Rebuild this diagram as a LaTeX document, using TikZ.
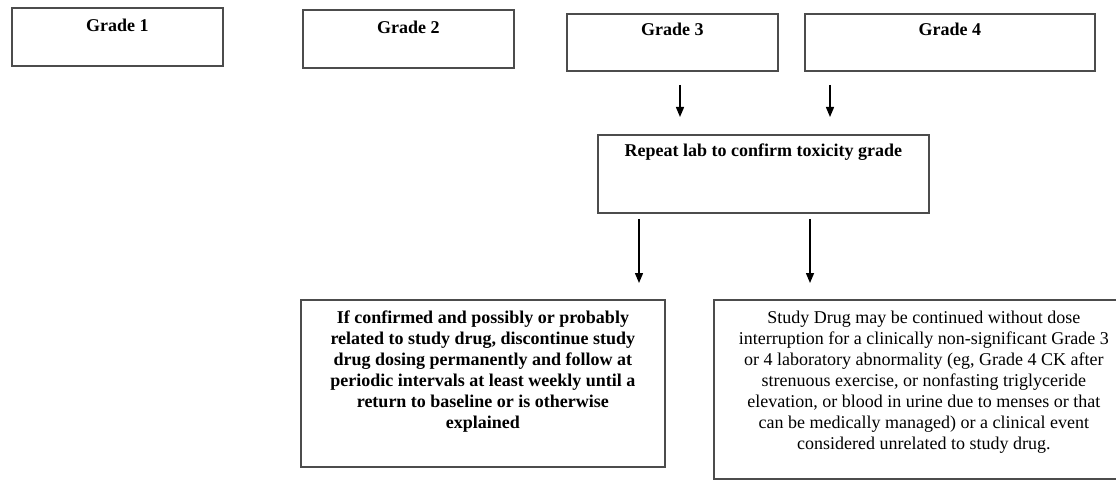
\documentclass[tikz,border=0pt]{standalone}
\usepackage{fontspec}
\setmainfont{Liberation Serif}
\usetikzlibrary{arrows.meta}
\begin{document}
\begin{tikzpicture}[x=1pt, y=-1pt,
	box/.style = {draw=black!70, line width=1.8pt, anchor=north west, inner sep=0pt},
	boxtext/.style = {anchor=north, yshift=-10pt, inner sep=2pt, align=center, font=\fontsize{18}{21}\selectfont},
	boldtext/.style = {boxtext, font=\fontsize{18}{21}\selectfont\bfseries},
	arr/.style = {-{Triangle[length=10pt, width=8pt]}, line width=1.4pt}]
	\useasboundingbox (0,0) rectangle (1116,481);
	\node[box, minimum width=211pt, minimum height=58pt, label={[boldtext]north:Grade 1}] (g1) at (11,7) {};
	\node[box, minimum width=211pt, minimum height=58pt, label={[boldtext]north:Grade 2}] (g2) at (302,9) {};
	\node[box, minimum width=211pt, minimum height=57pt, label={[boldtext, yshift=2pt]north:Grade 3}] (g3) at (566,13) {};
	\node[box, minimum width=290pt, minimum height=57pt, label={[boldtext, yshift=2pt]north:Grade 4}] (g4) at (804,13) {};
	\node[box, minimum width=331pt, minimum height=78pt, label={[boldtext, yshift=2pt]north:Repeat lab to confirm toxicity grade}] (rep) at (597,134) {};
	\node[box, minimum width=364pt, minimum height=167pt, label={[boldtext]north:If confirmed and possibly or probably\\related to study drug, discontinue study\\drug dosing permanently and follow at\\periodic intervals at least weekly until a\\return to baseline or is otherwise\\explained}] (stop) at (300,299) {};
	\node[box, minimum width=420pt, minimum height=179pt, label={[boxtext]north:Study Drug may be continued without dose\\interruption for a clinically non-significant Grade 3\\or 4 laboratory abnormality (eg, Grade 4 CK after\\strenuous exercise, or nonfasting triglyceride\\elevation, or blood in urine due to menses or that\\can be medically managed) or a clinical event\\considered unrelated to study drug.}] (cont) at (713,299) {};
	\coordinate (a3) at (680,0);
	\coordinate (a4) at (830,0);
	\coordinate (b1) at (639,0);
	\coordinate (b2) at (810,0);
	\draw[arr, shorten <=13pt, shorten >=17pt] (g3.south -| a3) -- (rep.north -| a3);
	\draw[arr, shorten <=13pt, shorten >=17pt] (g4.south -| a4) -- (rep.north -| a4);
	\draw[arr, shorten <=5pt, shorten >=16pt] (rep.south -| b1) -- (stop.north -| b1);
	\draw[arr, shorten <=5pt, shorten >=16pt] (rep.south -| b2) -- (cont.north -| b2);
\end{tikzpicture}
\end{document}
